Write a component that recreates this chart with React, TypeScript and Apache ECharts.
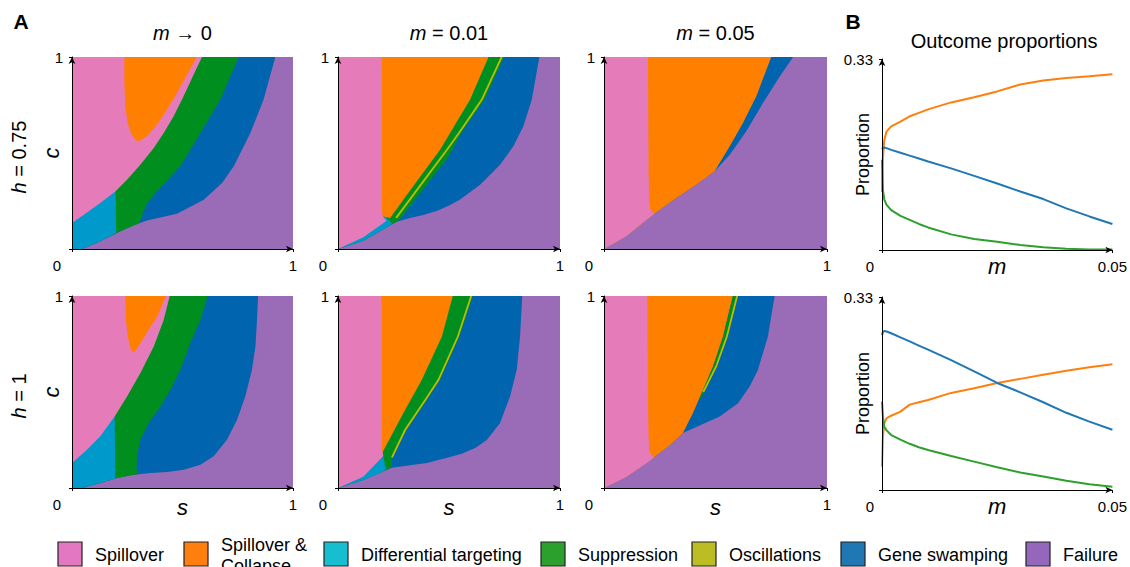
import React, { useEffect, useRef } from 'react';
import * as echarts from 'echarts';

const FONT = "'Liberation Sans', Arial, Helvetica, sans-serif";

// outcome index: 0 Spillover, 1 Spillover & Collapse, 2 Differential targeting,
// 3 Suppression, 4 Oscillations, 5 Gene swamping, 6 Failure
const outcomeLabels = ['Spillover', 'Spillover &\nCollapse', 'Differential targeting', 'Suppression', 'Oscillations', 'Gene swamping', 'Failure'];
const legendColors = ['#e377c2', '#ff7f0e', '#17becf', '#2ca02c', '#bcbd22', '#1f77b4', '#9467bd'];
const regionColors = ['#E67BB9', '#FF8000', '#0099CC', '#008F1E', '#BDBD00', '#0064AE', '#9A6BB6'];

const columnTitles = ['\u2192 0', '= 0.01', '= 0.05'];
const rowTitles = ['= 0.75', '= 1'];

// Phase-diagram regions in (s, c) space, painted in order
const regionsH075M0: [number, number[][]][] = [
  [6, [[0, 0], [1, 0], [1, 1], [0, 1]]],
  [5, [[0, 0], [0.045, 0], [0.128, 0.04], [0.219, 0.092], [0.28, 0.124], [0.339, 0.149], [0.475, 0.184], [0.596, 0.257], [0.679, 0.344], [0.732, 0.431], [0.807, 0.604], [0.867, 0.778], [0.92, 1], [0, 1]]],
  [3, [[0, 0], [0.045, 0], [0.128, 0.04], [0.219, 0.092], [0.28, 0.124], [0.305, 0.134], [0.316, 0.172], [0.33, 0.212], [0.339, 0.236], [0.377, 0.292], [0.49, 0.431], [0.581, 0.604], [0.671, 0.778], [0.754, 1], [0, 1]]],
  [2, [[0, 0], [0.045, 0], [0.128, 0.04], [0.2, 0.083], [0.197, 0.31], [0, 0.31]]],
  [0, [[0, 0.135], [0.068, 0.19], [0.128, 0.24], [0.196, 0.3], [0.249, 0.361], [0.309, 0.439], [0.37, 0.526], [0.415, 0.604], [0.46, 0.691], [0.505, 0.795], [0.55, 0.908], [0.588, 1], [0, 1]]],
  [1, [[0.237, 1], [0.237, 0.865], [0.241, 0.743], [0.252, 0.656], [0.267, 0.604], [0.287, 0.566], [0.302, 0.561], [0.339, 0.587], [0.385, 0.648], [0.43, 0.726], [0.475, 0.813], [0.52, 0.908], [0.566, 1]]],
];

const regionsH075M001: [number, number[][]][] = [
  [6, [[0, 0], [1, 0], [1, 1], [0, 1]]],
  [5, [[0, 0], [0.114, 0.043], [0.2, 0.1], [0.264, 0.142], [0.32, 0.16], [0.384, 0.177], [0.45, 0.2], [0.505, 0.229], [0.55, 0.258], [0.64, 0.335], [0.73, 0.439], [0.79, 0.535], [0.835, 0.639], [0.873, 0.778], [0.907, 1], [0, 1]]],
  [3, [[0, 0], [0.114, 0.043], [0.2, 0.1], [0.264, 0.142], [0.28, 0.155], [0.287, 0.168], [0.39, 0.32], [0.497, 0.48], [0.555, 0.604], [0.66, 0.778], [0.748, 1], [0, 1]]],
  [4, [[0.262, 0.162], [0.375, 0.338], [0.49, 0.516], [0.545, 0.604], [0.648, 0.778], [0.737, 1]]],
  [2, [[0, 0], [0.114, 0.043], [0.2, 0.1], [0.245, 0.13], [0.226, 0.153], [0.215, 0.175], [0.2, 0.19], [0, 0.05]]],
  [0, [[0, 0], [0.114, 0.061], [0.219, 0.147], [0.205, 0.165], [0.2, 0.2], [0.198, 1], [0, 1]]],
  [1, [[0.198, 1], [0.198, 0.2], [0.2, 0.178], [0.21, 0.168], [0.222, 0.165], [0.234, 0.16], [0.346, 0.338], [0.459, 0.516], [0.505, 0.604], [0.595, 0.778], [0.678, 1]]],
];

const regionsH075M005: [number, number[][]][] = [
  [6, [[0, 0], [1, 0], [1, 1], [0, 1]]],
  [5, [[0, 0], [0.1, 0.066], [0.22, 0.179], [0.324, 0.266], [0.414, 0.335], [0.496, 0.405], [0.564, 0.491], [0.638, 0.613], [0.713, 0.76], [0.788, 0.899], [0.848, 1], [0, 1]]],
  [1, [[0, 0], [0.1, 0.066], [0.22, 0.179], [0.324, 0.266], [0.414, 0.335], [0.496, 0.405], [0.564, 0.535], [0.623, 0.656], [0.683, 0.795], [0.75, 1], [0, 1]]],
  [0, [[0, 0], [0.1, 0.066], [0.2, 0.16], [0.228, 0.185], [0.215, 0.193], [0.207, 0.21], [0.203, 0.25], [0.2, 0.4], [0.197, 1], [0, 1]]],
];

const regionsH1M0: [number, number[][]][] = [
  [6, [[0, 0], [1, 0], [1, 1], [0, 1]]],
  [5, [[0, 0], [0.045, 0], [0.128, 0.026], [0.204, 0.052], [0.279, 0.069], [0.354, 0.078], [0.43, 0.083], [0.505, 0.095], [0.581, 0.121], [0.641, 0.165], [0.701, 0.251], [0.747, 0.355], [0.784, 0.477], [0.814, 0.615], [0.83, 0.737], [0.837, 0.875], [0.842, 1], [0, 1]]],
  [3, [[0, 0], [0.045, 0], [0.128, 0.026], [0.204, 0.052], [0.279, 0.069], [0.298, 0.072], [0.292, 0.1], [0.294, 0.165], [0.309, 0.251], [0.347, 0.338], [0.4, 0.425], [0.445, 0.511], [0.49, 0.615], [0.535, 0.754], [0.581, 0.875], [0.614, 1], [0, 1]]],
  [2, [[0, 0], [0.045, 0], [0.128, 0.026], [0.196, 0.05], [0.193, 0.38], [0, 0.38]]],
  [0, [[0, 0.13], [0.068, 0.199], [0.128, 0.269], [0.193, 0.373], [0.249, 0.477], [0.309, 0.598], [0.37, 0.737], [0.415, 0.875], [0.442, 1], [0, 1]]],
  [1, [[0.241, 1], [0.244, 0.875], [0.252, 0.789], [0.264, 0.728], [0.279, 0.705], [0.302, 0.74], [0.339, 0.81], [0.385, 0.892], [0.425, 1]]],
];

const regionsH1M001: [number, number[][]][] = [
  [6, [[0, 0], [1, 0], [1, 1], [0, 1]]],
  [5, [[0, 0], [0.114, 0.042], [0.2, 0.085], [0.242, 0.105], [0.3, 0.115], [0.4, 0.13], [0.5, 0.16], [0.56, 0.18], [0.62, 0.21], [0.67, 0.25], [0.73, 0.338], [0.775, 0.477], [0.805, 0.615], [0.82, 0.789], [0.83, 1], [0, 1]]],
  [3, [[0, 0], [0.114, 0.042], [0.2, 0.085], [0.215, 0.095], [0.243, 0.11], [0.242, 0.146], [0.27, 0.22], [0.309, 0.302], [0.4, 0.458], [0.459, 0.5625], [0.547, 0.789], [0.607, 1], [0, 1]]],
  [4, [[0.243, 0.16], [0.268, 0.22], [0.302, 0.302], [0.393, 0.458], [0.452, 0.5625], [0.54, 0.789], [0.6, 1]]],
  [2, [[0, 0], [0.114, 0.042], [0.2, 0.085], [0.215, 0.095], [0.205, 0.16], [0.2, 0.175], [0, 0.02]]],
  [0, [[0, 0], [0.114, 0.059], [0.204, 0.167], [0.2, 0.2], [0.198, 1], [0, 1]]],
  [1, [[0.197, 1], [0.197, 0.2], [0.2, 0.185], [0.294, 0.389], [0.377, 0.5625], [0.468, 0.789], [0.517, 1]]],
];

const regionsH1M005: [number, number[][]][] = [
  [6, [[0, 0], [1, 0], [1, 1], [0, 1]]],
  [5, [[0, 0], [0.1, 0.057], [0.22, 0.156], [0.294, 0.222], [0.354, 0.286], [0.436, 0.329], [0.519, 0.373], [0.601, 0.442], [0.653, 0.529], [0.69, 0.615], [0.735, 0.789], [0.765, 1], [0, 1]]],
  [1, [[0, 0], [0.1, 0.057], [0.22, 0.156], [0.294, 0.222], [0.354, 0.286], [0.399, 0.39], [0.444, 0.511], [0.489, 0.633], [0.534, 0.789], [0.578, 1], [0, 1]]],
  [3, [[0.425, 0.46], [0.489, 0.633], [0.534, 0.789], [0.578, 1], [0.594, 1], [0.549, 0.789], [0.5, 0.633], [0.437, 0.47]]],
  [4, [[0.445, 0.5], [0.503, 0.633], [0.551, 0.789], [0.597, 1]]],
  [0, [[0, 0], [0.1, 0.057], [0.2, 0.137], [0.225, 0.16], [0.215, 0.168], [0.207, 0.18], [0.203, 0.2], [0.2, 0.27], [0.197, 0.45], [0.194, 1], [0, 1]]],
];

// Outcome proportions vs m
const mValues = [0, 0.0002, 0.0005, 0.001, 0.002, 0.004, 0.006, 0.008, 0.01, 0.015, 0.02, 0.025, 0.03, 0.035, 0.04, 0.045, 0.05];
const collapseH075 = [0.1, 0.16, 0.19, 0.205, 0.2135, 0.222, 0.231, 0.237, 0.243, 0.255, 0.264, 0.274, 0.286, 0.293, 0.297, 0.3, 0.3035];
const swampingH075 = [0.174, 0.176, 0.177, 0.176, 0.173, 0.168, 0.163, 0.158, 0.153, 0.141, 0.128, 0.115, 0.101, 0.088, 0.072, 0.058, 0.045];
const suppressionH075 = [0.156, 0.104, 0.087, 0.078, 0.069, 0.059, 0.052, 0.045, 0.039, 0.027, 0.019, 0.0144, 0.0087, 0.0046, 0.0023, 0.001, 0.0008];
const collapseH1 = [0.04, 0.091, 0.114, 0.123, 0.127, 0.134, 0.146, 0.15, 0.154, 0.166, 0.174, 0.183, 0.19, 0.197, 0.204, 0.21, 0.215];
const swampingH1 = [0.265, 0.27, 0.272, 0.271, 0.268, 0.261, 0.254, 0.247, 0.24, 0.222, 0.203, 0.183, 0.167, 0.15, 0.132, 0.117, 0.103];
const suppressionH1 = [0.151, 0.126, 0.108, 0.102, 0.094, 0.086, 0.079, 0.073, 0.0685, 0.058, 0.0485, 0.039, 0.03, 0.023, 0.016, 0.01, 0.0057];

const regionPanels = [regionsH075M0, regionsH075M001, regionsH075M005, regionsH1M0, regionsH1M001, regionsH1M005];

const mapLeft = [72, 338, 604];
const mapWidth = [221, 222, 223];
const rowTop = [57, 296];

const txt = (extra: any) => ({ color: '#000', fontFamily: FONT, ...extra });

function axisLineCfg() {
  return {
    show: true,
    onZero: false,
    symbol: ['none', 'arrow'],
    symbolSize: [5, 7],
    lineStyle: { color: '#000', width: 1 },
  };
}

function buildOption() {
  const grid: any[] = [];
  const xAxis: any[] = [];
  const yAxis: any[] = [];
  const series: any[] = [];

  regionPanels.forEach((layers, gi) => {
    const col = gi % 3;
    const row = Math.floor(gi / 3);
    grid.push({ left: mapLeft[col], top: rowTop[row], width: mapWidth[col], height: 192, containLabel: false });
    xAxis.push({
      type: 'value', gridIndex: gi, min: 0, max: 1, interval: 1, z: 10,
      axisLine: axisLineCfg(),
      axisTick: { show: true, length: 3, lineStyle: { color: '#000' } },
      splitLine: { show: false },
      axisLabel: {
        margin: 9, ...txt({ fontSize: 15 }),
        formatter: (v: number) => (v === 0 ? '{z|0}' : '{n|1}'),
        rich: { z: txt({ fontSize: 15, padding: [0, 30, 0, 0] }), n: txt({ fontSize: 15 }) },
      },
      name: row === 1 ? 's' : '',
      nameLocation: 'middle', nameGap: 8, nameMoveOverlap: false,
      nameTextStyle: txt({ fontSize: 22, fontStyle: 'italic' }),
    });
    yAxis.push({
      type: 'value', gridIndex: gi, min: 0, max: 1, interval: 1, z: 10,
      axisLine: axisLineCfg(),
      axisTick: { show: true, length: 3, lineStyle: { color: '#000' } },
      splitLine: { show: false },
      axisLabel: { margin: 9, ...txt({ fontSize: 15 }), formatter: (v: number) => (v === 1 ? '1' : '') },
      name: col === 0 ? 'c' : '',
      nameLocation: 'middle', nameGap: 10, nameRotate: 90, nameMoveOverlap: false,
      nameTextStyle: txt({ fontSize: 22, fontStyle: 'italic' }),
    });
    series.push({
      type: 'custom', xAxisIndex: gi, yAxisIndex: gi, clip: true, silent: true,
      data: layers.map(() => [0.5, 0.5]),
      renderItem: (params: any, api: any) => {
        const layer = layers[params.dataIndex];
        const k = layer[0];
        const points = layer[1].map((p) => api.coord(p));
        if (k === 4) {
          return { type: 'polyline', z2: params.dataIndex, shape: { points }, style: { stroke: regionColors[k], lineWidth: 1.8, fill: null } };
        }
        return { type: 'polygon', z2: params.dataIndex, shape: { points }, style: { fill: regionColors[k] } };
      },
    });
  });

  const lineSets = [
    [collapseH075, swampingH075, suppressionH075],
    [collapseH1, swampingH1, suppressionH1],
  ];
  const lineTop = [59, 297];
  const lineHeight = [191, 193];
  const lineColors = ['#ff7f0e', '#1f77b4', '#2ca02c'];
  lineSets.forEach((sets, r) => {
    const gi = 6 + r;
    grid.push({ left: 882, top: lineTop[r], width: 231, height: lineHeight[r], containLabel: false });
    xAxis.push({
      type: 'value', gridIndex: gi, min: 0, max: 0.05, interval: 0.05, z: 10,
      axisLine: axisLineCfg(),
      axisTick: { show: true, length: 3, lineStyle: { color: '#000' } },
      splitLine: { show: false },
      axisLabel: {
        margin: 9, ...txt({ fontSize: 15 }),
        formatter: (v: number) => (v === 0 ? '{z|0}' : '{n|0.05}'),
        rich: { z: txt({ fontSize: 15, padding: [0, 24, 0, 0] }), n: txt({ fontSize: 15 }) },
      },
      name: 'm', nameLocation: 'middle', nameGap: 5, nameMoveOverlap: false,
      nameTextStyle: txt({ fontSize: 22, fontStyle: 'italic' }),
    });
    yAxis.push({
      type: 'value', gridIndex: gi, min: 0, max: 0.33, interval: 0.33, z: 10,
      axisLine: axisLineCfg(),
      axisTick: { show: true, length: 3, lineStyle: { color: '#000' } },
      splitLine: { show: false },
      axisLabel: { margin: 9, ...txt({ fontSize: 15 }), formatter: (v: number) => (v > 0 ? '0.33' : '') },
      name: 'Proportion', nameLocation: 'middle', nameGap: 10, nameRotate: 90, nameMoveOverlap: false,
      nameTextStyle: txt({ fontSize: 18 }),
    });
    sets.forEach((vals, si) => {
      series.push({
        type: 'line', xAxisIndex: gi, yAxisIndex: gi, showSymbol: false, symbol: 'none', silent: true,
        name: outcomeLabels[[1, 5, 3][si]],
        data: mValues.map((m, i) => [m, vals[i]]),
        lineStyle: { color: lineColors[si], width: 2 },
        itemStyle: { color: lineColors[si] },
      });
    });
  });

  const graphic: any[] = [];
  const textEl = (x: number, y: number, text: string, style: any, rotation = 0) => ({
    type: 'text', x, y, rotation, silent: true,
    style: {
      text, fill: '#000', fontFamily: FONT, align: 'center', verticalAlign: 'middle',
      textAlign: 'center', textVerticalAlign: 'middle', ...style,
    },
  });
  const italicRich = (size: number) => ({ i: { fontStyle: 'italic', fontSize: size, fontFamily: FONT, fill: '#000' }, r: { fontSize: size, fontFamily: FONT, fill: '#000' } });

  graphic.push(textEl(21, 21, 'A', { fontSize: 21, fontWeight: 'bold' }));
  graphic.push(textEl(853, 21, 'B', { fontSize: 21, fontWeight: 'bold' }));
  columnTitles.forEach((t, c) => {
    graphic.push(textEl(mapLeft[c] + mapWidth[c] / 2, 33, `{i|m}{r| ${t}}`, { fontSize: 20, rich: italicRich(20) }));
  });
  rowTitles.forEach((t, r) => {
    graphic.push(textEl(19, rowTop[r] + 100, `{i|h}{r| ${t}}`, { fontSize: 20, rich: italicRich(20) }, Math.PI / 2));
  });
  graphic.push(textEl(1004, 41, 'Outcome proportions', { fontSize: 20 }));

  const legendBoxX = [58, 184, 324, 541, 692, 841, 1026];
  outcomeLabels.forEach((label, i) => {
    graphic.push({
      type: 'rect', silent: true,
      shape: { x: legendBoxX[i], y: 542, width: 24, height: 24 },
      style: { fill: legendColors[i], stroke: '#222', lineWidth: 1.2 },
    });
    graphic.push({
      type: 'text', x: legendBoxX[i] + 37, y: 555, silent: true,
      style: {
        text: label, fill: '#000', fontFamily: FONT, fontSize: 18, lineHeight: 21,
        align: 'left', verticalAlign: 'middle', textAlign: 'left', textVerticalAlign: 'middle',
      },
    });
  });

  return {
    animation: false,
    backgroundColor: '#ffffff',
    textStyle: { fontFamily: FONT },
    grid, xAxis, yAxis, series, graphic,
  };
}

export default function App() {
  const ref = useRef<HTMLDivElement>(null);
  useEffect(() => {
    if (!ref.current) return;
    const chart = echarts.init(ref.current, undefined, { renderer: 'svg' });
    chart.setOption(buildOption() as any);
    return () => chart.dispose();
  }, []);
  return <div ref={ref} style={{ position: 'absolute', left: 0, top: 0, width: 1130, height: 567 }} />;
}
